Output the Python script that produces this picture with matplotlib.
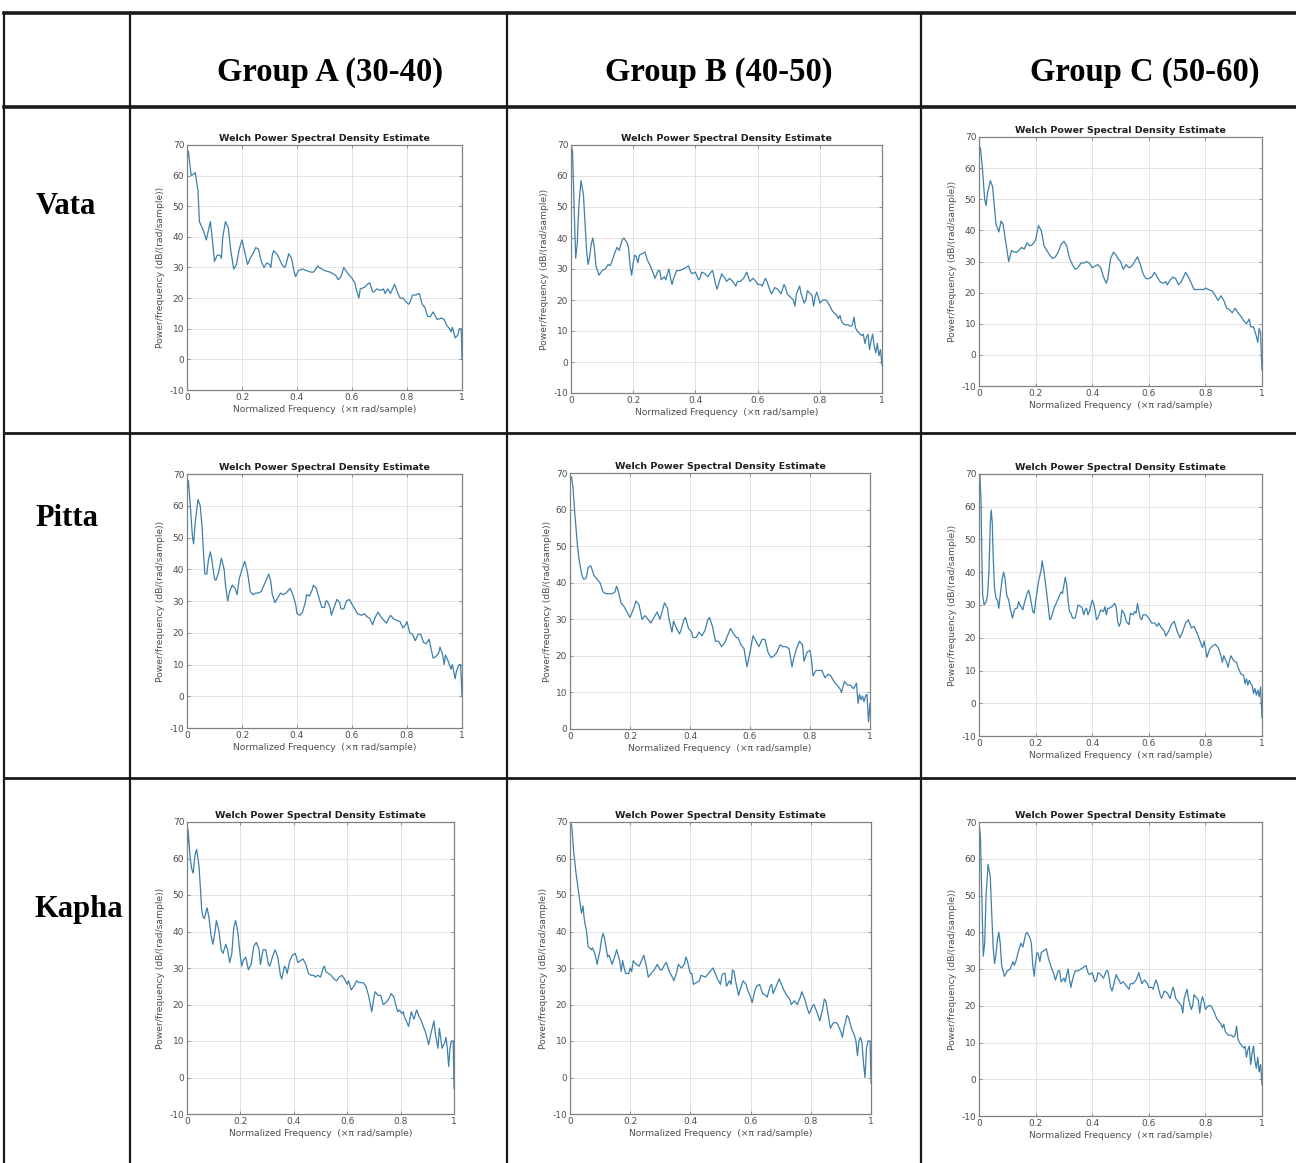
import matplotlib
matplotlib.use("Agg")
import matplotlib.pyplot as plt
from matplotlib.lines import Line2D

plt.rcParams["axes.unicode_minus"] = False

# ---------------- data ----------------
row_labels = ["Vata", "Pitta", "Kapha"]
col_labels = ["Group A (30-40)", "Group B (40-50)", "Group C (50-60)"]
plot_title = "Welch Power Spectral Density Estimate"
x_label = "Normalized Frequency  (\u00d7\u03c0 rad/sample)"
y_label = "Power/frequency (dB/(rad/sample))"
x_ticks = [0, 0.2, 0.4, 0.6, 0.8, 1]
x_ticklabels = ["0", "0.2", "0.4", "0.6", "0.8", "1"]

vata_a_f = [0, 0.005, 0.015, 0.025, 0.03, 0.04, 0.045, 0.05, 0.06, 0.07, 0.08, 0.085, 0.09, 0.1, 0.11, 0.12, 0.125,
            0.13, 0.14, 0.15, 0.16, 0.17, 0.18, 0.19, 0.2, 0.21, 0.22, 0.23, 0.24, 0.25, 0.26, 0.27, 0.28, 0.29, 0.3,
            0.305, 0.31, 0.315, 0.33, 0.345, 0.355, 0.36, 0.37, 0.38, 0.39, 0.395, 0.405, 0.42, 0.435, 0.45, 0.46,
            0.465, 0.475, 0.48, 0.5, 0.52, 0.54, 0.55, 0.56, 0.57, 0.585, 0.6, 0.61, 0.615, 0.625, 0.63, 0.645, 0.655,
            0.665, 0.675, 0.68, 0.69, 0.705, 0.715, 0.72, 0.73, 0.74, 0.755, 0.765, 0.775, 0.785, 0.795, 0.805, 0.81,
            0.82, 0.83, 0.845, 0.855, 0.865, 0.875, 0.885, 0.895, 0.91, 0.925, 0.935, 0.945, 0.955, 0.96, 0.965,
            0.975, 0.985, 0.99, 0.997, 1.0]
vata_a_db = [65, 68, 60, 60.5, 61, 55, 45, 44, 42, 39, 43, 45, 41, 32, 34, 34, 33,
             40, 45, 43, 35, 29.5, 31, 36, 39, 35, 31, 33, 34.5, 36.5, 36, 32, 30, 31.5, 31,
             30, 34, 35.5, 34, 31, 30, 31, 34.5, 33, 28.5, 27, 29, 29.5, 29, 28.5, 28.5,
             29, 30.5, 30, 29, 28.5, 27.5, 26, 27, 30, 28, 26.5, 25, 23, 20, 23, 23.5, 24.5,
             25, 22, 22, 23, 22.5, 23, 21.5, 23, 21.5, 24.5, 22, 20, 20, 19, 18, 18.5,
             21, 21, 21.5, 18, 17, 14, 14, 15.5, 13, 13.5, 13, 11, 10, 9, 10.5,
             7, 8, 10, 10, 0]

vata_b_f = [0, 0.005, 0.01, 0.015, 0.02, 0.025, 0.032, 0.04, 0.045, 0.05, 0.055, 0.06, 0.065, 0.07, 0.075, 0.08,
            0.09, 0.1, 0.11, 0.12, 0.125, 0.13, 0.14, 0.148, 0.155, 0.165, 0.17, 0.18, 0.185, 0.19, 0.195, 0.2,
            0.205, 0.21, 0.215, 0.22, 0.23, 0.238, 0.245, 0.255, 0.265, 0.27, 0.28, 0.285, 0.29, 0.3, 0.305, 0.31,
            0.315, 0.32, 0.325, 0.33, 0.34, 0.35, 0.36, 0.37, 0.378, 0.385, 0.39, 0.4, 0.41, 0.415, 0.42, 0.43,
            0.44, 0.45, 0.455, 0.46, 0.465, 0.47, 0.48, 0.485, 0.49, 0.495, 0.5, 0.51, 0.52, 0.53, 0.535, 0.545,
            0.555, 0.565, 0.57, 0.575, 0.585, 0.595, 0.6, 0.61, 0.615, 0.625, 0.63, 0.64, 0.645, 0.655, 0.665,
            0.675, 0.685, 0.69, 0.695, 0.705, 0.715, 0.72, 0.725, 0.735, 0.74, 0.75, 0.755, 0.76, 0.765, 0.775,
            0.78, 0.785, 0.79, 0.795, 0.8, 0.81, 0.82, 0.83, 0.84, 0.85, 0.855, 0.86, 0.865, 0.87, 0.88, 0.89,
            0.9, 0.905, 0.91, 0.915, 0.92, 0.93, 0.935, 0.94, 0.945, 0.95, 0.955, 0.96, 0.965, 0.97, 0.975, 0.98,
            0.985, 0.99, 0.995, 1.0]
vata_b_db = [70, 68, 50, 33.5, 38, 50, 58.5, 54, 45, 36, 31.5, 34, 38, 40, 37, 31,
             28, 29.5, 30, 31.5, 31, 32, 35, 37, 36, 39.5, 40, 38.5, 37, 31, 28, 32,
             34.5, 34, 32, 34.5, 35, 35.5, 33, 31, 28.5, 27, 29.5, 29.5, 26.5, 27.5, 26.5, 28.5,
             30, 27, 25, 27, 29.5, 29.5, 30, 30.5, 31, 29, 28.5, 29, 26.5, 27, 29, 28.5,
             27.5, 29, 29.5, 27.5, 25, 23.5, 27, 28.5, 27.5, 27, 26, 27, 26, 24.5, 26, 26,
             27, 29, 27.5, 26, 27, 26, 25, 25, 24.5, 27, 26, 23, 22, 24, 23.5,
             22, 25, 24, 22, 21, 20, 18, 22, 24.5, 22, 19, 20, 23, 22.5, 21.5,
             18, 21, 22.5, 21, 19, 20, 20, 18.5, 16.5, 15.5, 15, 14, 15, 13, 12, 12,
             11.5, 12, 14.5, 11, 10, 9, 8.5, 9, 6, 8, 9, 4, 7, 9, 5, 3,
             6, 2, 4, -1]

vata_c_f = [0, 0.005, 0.012, 0.02, 0.025, 0.03, 0.04, 0.048, 0.055, 0.06, 0.07, 0.078, 0.085, 0.09, 0.1, 0.105,
            0.115, 0.125, 0.135, 0.15, 0.16, 0.17, 0.18, 0.19, 0.2, 0.21, 0.22, 0.23, 0.24, 0.25, 0.26, 0.27, 0.28,
            0.29, 0.3, 0.31, 0.32, 0.33, 0.34, 0.35, 0.36, 0.37, 0.38, 0.39, 0.4, 0.41, 0.42, 0.43, 0.44, 0.45,
            0.455, 0.465, 0.475, 0.485, 0.49, 0.5, 0.51, 0.52, 0.53, 0.54, 0.55, 0.56, 0.57, 0.58, 0.59, 0.6, 0.61,
            0.62, 0.63, 0.64, 0.65, 0.66, 0.665, 0.675, 0.685, 0.695, 0.705, 0.715, 0.73, 0.74, 0.75, 0.76, 0.78,
            0.795, 0.8, 0.81, 0.825, 0.835, 0.845, 0.855, 0.865, 0.875, 0.885, 0.895, 0.905, 0.915, 0.925, 0.935,
            0.945, 0.955, 0.96, 0.97, 0.98, 0.985, 0.99, 0.995, 1.0]
vata_c_db = [67, 66.5, 60, 50, 48, 52, 56, 54, 47, 42, 39.5, 43, 42, 39, 33, 30,
             33.5, 33, 33, 34.5, 34, 36, 35, 35.5, 37, 41.5, 40, 35, 33.5, 32, 31, 31.5, 33,
             35.5, 36.5, 35, 31, 29, 27.5, 28, 29.5, 29.5, 30, 29.5, 28, 28.5, 29, 28, 25, 23,
             24.5, 31, 33, 32, 31, 30, 27.5, 29, 28, 28.5, 30, 31.5, 29, 26, 24.5, 24.5, 25,
             26.5, 25, 23.5, 23, 23.5, 22.5, 24, 25, 24.5, 22.5, 23.5, 26.5, 25, 23, 21, 21,
             21, 21.5, 21, 20.5, 19, 17.5, 19, 17.5, 15, 14.5, 13.5, 15, 13.5, 12.5, 11,
             10, 11.5, 9, 9, 6, 4, 8.5, 7, -5]

pitta_a_f = [0, 0.005, 0.012, 0.02, 0.024, 0.03, 0.04, 0.048, 0.055, 0.06, 0.065, 0.072, 0.078, 0.085, 0.09, 0.1,
             0.105, 0.115, 0.125, 0.135, 0.14, 0.148, 0.155, 0.165, 0.175, 0.182, 0.19, 0.2, 0.21, 0.22, 0.23,
             0.24, 0.25, 0.26, 0.27, 0.28, 0.29, 0.297, 0.305, 0.31, 0.32, 0.33, 0.34, 0.35, 0.36, 0.37, 0.375,
             0.385, 0.395, 0.4, 0.41, 0.42, 0.43, 0.435, 0.445, 0.455, 0.46, 0.47, 0.48, 0.49, 0.5, 0.505, 0.51,
             0.52, 0.525, 0.535, 0.545, 0.555, 0.56, 0.57, 0.58, 0.59, 0.6, 0.61, 0.62, 0.635, 0.645, 0.655, 0.665,
             0.675, 0.685, 0.695, 0.705, 0.715, 0.725, 0.74, 0.75, 0.76, 0.775, 0.785, 0.795, 0.8, 0.81, 0.82,
             0.83, 0.84, 0.85, 0.86, 0.87, 0.88, 0.89, 0.895, 0.905, 0.915, 0.92, 0.93, 0.935, 0.94, 0.95, 0.96,
             0.965, 0.975, 0.98, 0.99, 0.995, 1.0]
pitta_a_db = [64, 68, 60, 50, 48, 55, 62, 60, 53, 45, 38.5, 38.5, 43, 45.5, 43, 37,
              36.5, 39, 43.5, 40, 35, 30, 33, 35, 34, 32, 37, 40, 42.5, 39, 33,
              32, 32.5, 32.5, 33, 35, 37, 38.5, 36, 32, 29.5, 31, 32.5, 32, 32.5, 33.5, 34,
              32, 29, 26, 25.5, 26.5, 29.5, 32, 31.5, 33.5, 35, 34, 31, 28, 28, 30, 30,
              28, 25.5, 28, 30.5, 29.5, 27.5, 27.5, 30, 30.5, 29, 27.5, 26, 25.5, 26, 25, 24.5,
              22.5, 25, 26.5, 25, 24, 23, 25.5, 24.5, 24, 23.5, 21.5, 22.5, 23.5, 20, 19.5,
              17.5, 19.5, 19.5, 17, 16.5, 18, 14, 12, 12.5, 13.5, 15.5, 13, 10, 13, 11, 8.5,
              10, 5.5, 8, 10, 10, 0]

pitta_b_f = [0, 0.005, 0.01, 0.015, 0.02, 0.025, 0.03, 0.035, 0.04, 0.045, 0.05, 0.055, 0.06, 0.065, 0.07, 0.08,
             0.09, 0.1, 0.11, 0.12, 0.13, 0.14, 0.15, 0.155, 0.16, 0.17, 0.18, 0.19, 0.2, 0.21, 0.22, 0.23, 0.24,
             0.25, 0.26, 0.27, 0.28, 0.29, 0.3, 0.31, 0.315, 0.325, 0.33, 0.34, 0.345, 0.355, 0.365, 0.37, 0.38,
             0.385, 0.395, 0.405, 0.41, 0.42, 0.43, 0.44, 0.45, 0.46, 0.465, 0.475, 0.485, 0.495, 0.505, 0.515,
             0.525, 0.535, 0.545, 0.555, 0.56, 0.57, 0.58, 0.59, 0.6, 0.61, 0.62, 0.63, 0.64, 0.65, 0.66, 0.67,
             0.68, 0.69, 0.7, 0.71, 0.72, 0.73, 0.74, 0.745, 0.755, 0.765, 0.775, 0.78, 0.79, 0.8, 0.805, 0.81,
             0.82, 0.83, 0.84, 0.85, 0.86, 0.87, 0.88, 0.89, 0.9, 0.905, 0.915, 0.925, 0.935, 0.945, 0.955, 0.96,
             0.965, 0.97, 0.975, 0.98, 0.985, 0.99, 0.995, 1.0]
pitta_b_db = [68, 69, 66, 60, 55, 50, 46.5, 44, 42, 41, 41, 41.5, 44, 44.5, 44.5, 42,
              41, 40, 37.5, 37, 37, 37, 37.5, 39, 38, 34.5, 33.5, 32, 30.5, 32.5, 35, 34, 30,
              31, 30, 29, 30.5, 32, 30, 33, 34.5, 33, 30, 26.5, 29.5, 27.5, 26, 27, 30,
              30.5, 27.5, 26.5, 25, 25, 26.5, 25.5, 27, 30, 30.5, 28, 24, 24, 22.5, 23.5,
              25.5, 27.5, 26, 25, 25, 23, 22, 17, 21, 25.5, 24, 22.5, 24.5, 24.5, 21, 19.5,
              20, 21, 23, 22.5, 22.5, 22, 17, 19, 22, 24, 23, 18.5, 21, 21.5, 19, 14.5,
              16, 16, 16, 14, 15, 14.5, 13, 12, 11, 10, 13, 12, 12, 11, 12.5, 7,
              9.5, 8, 9, 7.5, 9, 9.5, 2, 7]

pitta_c_f = [0, 0.003, 0.007, 0.01, 0.013, 0.018, 0.025, 0.03, 0.035, 0.04, 0.043, 0.047, 0.05, 0.055, 0.06,
             0.065, 0.07, 0.075, 0.082, 0.087, 0.092, 0.098, 0.105, 0.11, 0.118, 0.125, 0.13, 0.135, 0.14, 0.145,
             0.155, 0.16, 0.168, 0.175, 0.18, 0.19, 0.195, 0.2, 0.21, 0.22, 0.223, 0.23, 0.24, 0.25, 0.255, 0.265,
             0.27, 0.28, 0.285, 0.29, 0.295, 0.3, 0.305, 0.31, 0.315, 0.32, 0.325, 0.33, 0.34, 0.345, 0.35, 0.36,
             0.365, 0.37, 0.375, 0.38, 0.385, 0.39, 0.4, 0.405, 0.41, 0.415, 0.42, 0.43, 0.44, 0.445, 0.45, 0.455,
             0.46, 0.47, 0.48, 0.485, 0.49, 0.495, 0.5, 0.505, 0.515, 0.52, 0.53, 0.535, 0.545, 0.55, 0.555, 0.56,
             0.565, 0.57, 0.575, 0.58, 0.59, 0.6, 0.61, 0.62, 0.63, 0.635, 0.645, 0.655, 0.66, 0.67, 0.68, 0.69,
             0.7, 0.71, 0.72, 0.73, 0.74, 0.75, 0.76, 0.77, 0.775, 0.785, 0.79, 0.795, 0.8, 0.805, 0.815, 0.825,
             0.835, 0.845, 0.855, 0.86, 0.865, 0.875, 0.88, 0.885, 0.89, 0.9, 0.91, 0.915, 0.925, 0.935, 0.94,
             0.945, 0.95, 0.955, 0.96, 0.965, 0.97, 0.975, 0.98, 0.985, 0.99, 0.995, 1.0]
pitta_c_db = [66, 70, 62, 45, 33, 30, 31, 33, 40, 55, 59, 55, 45, 35, 32,
              31.5, 29, 33, 38, 40, 38, 33, 31.5, 29, 26, 28.5, 29, 29, 31, 30,
              28.5, 30.5, 33, 34.5, 33, 28, 27.5, 31, 37, 41, 43.5, 40, 33, 25.5, 26, 29,
              30, 32, 33, 34, 33.5, 36, 38.5, 36, 31, 28, 27.5, 26, 26, 28, 30, 29.5,
              29, 27, 28.5, 29, 27, 28, 31.5, 30.5, 28.5, 25.5, 26, 28.5, 28, 29.5, 27, 29,
              29, 29.5, 30.5, 29, 25, 23.5, 24.5, 28.5, 27, 25, 24, 27.5, 27, 28, 27.5, 30.5,
              28, 26, 25.5, 27, 27, 26, 24.5, 24.5, 23.5, 24.5, 23, 22, 20.5, 22, 24, 25,
              22, 20, 22, 24.5, 25.5, 23, 23.5, 21.5, 20.5, 18, 17, 19, 17, 14, 16.5, 17.5,
              18, 17, 14.5, 12.5, 14.5, 12.5, 11, 13, 14.5, 13, 12.5, 11, 9, 8.5, 6,
              7.5, 5.5, 7, 6, 5.5, 3, 4.5, 2.5, 4, 2, 5, -4.5]

kapha_a_f = [0, 0.004, 0.008, 0.012, 0.018, 0.023, 0.03, 0.036, 0.045, 0.05, 0.055, 0.06, 0.065, 0.07, 0.075,
             0.082, 0.09, 0.097, 0.105, 0.11, 0.12, 0.128, 0.135, 0.145, 0.152, 0.16, 0.168, 0.175, 0.182, 0.19,
             0.2, 0.205, 0.21, 0.22, 0.23, 0.24, 0.25, 0.26, 0.27, 0.275, 0.285, 0.295, 0.305, 0.31, 0.32, 0.33,
             0.34, 0.35, 0.355, 0.365, 0.37, 0.375, 0.385, 0.395, 0.405, 0.41, 0.415, 0.425, 0.435, 0.445, 0.455,
             0.465, 0.475, 0.48, 0.49, 0.5, 0.51, 0.515, 0.52, 0.53, 0.54, 0.55, 0.56, 0.57, 0.58, 0.59, 0.6,
             0.605, 0.615, 0.625, 0.635, 0.645, 0.66, 0.67, 0.68, 0.692, 0.7, 0.705, 0.715, 0.725, 0.735, 0.745,
             0.755, 0.765, 0.775, 0.785, 0.79, 0.795, 0.805, 0.81, 0.815, 0.83, 0.84, 0.85, 0.86, 0.87, 0.875,
             0.885, 0.895, 0.905, 0.915, 0.925, 0.93, 0.94, 0.945, 0.95, 0.955, 0.965, 0.97, 0.975, 0.98, 0.985,
             0.99, 0.997, 1.0]
kapha_a_db = [60, 68, 64, 60, 57, 56, 61, 62.5, 58, 52, 46, 44, 43.5, 45, 46.5,
              44, 39, 36.5, 40, 43, 40, 35, 34, 36.5, 35, 31.5, 34, 41, 43, 40,
              33, 30.5, 32, 33, 29.5, 31, 36, 37, 35, 31, 35, 35, 31, 30.5, 33, 35,
              33, 28, 27, 30.5, 30, 28.5, 32, 33.5, 34, 33, 31.5, 32, 32.5, 31, 28.5,
              28, 28, 27.5, 28, 27.5, 30, 30.5, 29, 28.5, 28, 27, 26.5, 27.5, 28, 27, 25.5,
              26.5, 24, 25, 26.5, 26, 26, 25, 22.5, 18, 22, 23.5, 22.5, 22.5, 20, 20.5,
              21.5, 23, 22, 19, 18, 18.5, 17.5, 18, 16.5, 14, 18, 16, 18.5, 16.5, 16,
              14, 12, 9, 12.5, 15.5, 12, 8, 13.5, 11, 8, 9.5, 11, 8, 3, 8,
              10, 10, -3]

kapha_b_f = [0, 0.006, 0.012, 0.02, 0.03, 0.038, 0.043, 0.048, 0.055, 0.06, 0.07, 0.075, 0.082, 0.088, 0.09, 0.1,
             0.105, 0.11, 0.115, 0.125, 0.13, 0.14, 0.15, 0.155, 0.165, 0.17, 0.175, 0.18, 0.185, 0.195, 0.2,
             0.205, 0.21, 0.22, 0.23, 0.24, 0.245, 0.255, 0.26, 0.27, 0.28, 0.29, 0.3, 0.305, 0.315, 0.32, 0.33,
             0.34, 0.345, 0.355, 0.36, 0.365, 0.37, 0.38, 0.385, 0.39, 0.395, 0.4, 0.405, 0.41, 0.42, 0.43, 0.435,
             0.45, 0.46, 0.47, 0.475, 0.48, 0.49, 0.5, 0.505, 0.51, 0.515, 0.52, 0.53, 0.535, 0.54, 0.545, 0.55,
             0.56, 0.565, 0.575, 0.585, 0.59, 0.6, 0.605, 0.615, 0.62, 0.63, 0.64, 0.65, 0.655, 0.665, 0.67,
             0.675, 0.685, 0.695, 0.7, 0.71, 0.72, 0.73, 0.735, 0.745, 0.755, 0.765, 0.77, 0.78, 0.79, 0.795,
             0.805, 0.81, 0.82, 0.83, 0.84, 0.845, 0.85, 0.86, 0.865, 0.875, 0.885, 0.89, 0.9, 0.905, 0.91, 0.92,
             0.925, 0.935, 0.945, 0.95, 0.955, 0.96, 0.965, 0.97, 0.975, 0.98, 0.985, 0.99, 0.997, 1.0]
kapha_b_db = [70, 69, 62, 56, 50, 45, 47, 43, 40, 36, 35, 35.5, 34, 32, 31, 35,
              38, 39.5, 38, 33, 33.5, 31, 33.5, 35, 32, 29, 32, 30, 28.5, 28.5, 30,
              29, 32, 31, 30.5, 32.5, 33.5, 30, 27.5, 28.5, 29.5, 31, 29.5, 29.5, 31, 31.5, 29,
              27.5, 26.5, 29, 31, 30.5, 30, 31, 33, 32, 30, 28.5, 28.5, 25.5, 26, 26.5, 28,
              27.5, 28.5, 29.5, 30, 29, 27, 25.5, 28, 28.5, 28.5, 25, 26.5, 25.5, 29.5, 29, 26.5,
              22.5, 24, 26.5, 25.5, 24, 22, 20.5, 24, 25, 25.5, 23, 22.5, 22, 25, 25.5,
              23, 25, 27, 26, 24, 22.5, 21.5, 20, 21, 20, 22, 23.5, 21.5, 18.5, 17.5,
              19.5, 20, 18, 15.5, 19, 21.5, 21, 16, 13.5, 15, 15, 14.5, 12.5, 11, 13.5, 17,
              16.5, 13.5, 11.5, 10, 6, 10, 11, 9.5, 4, 0, 8, 10, 10, -1.5]

kapha_c_f = [0, 0.005, 0.01, 0.015, 0.02, 0.025, 0.032, 0.04, 0.045, 0.05, 0.055, 0.06, 0.065, 0.07, 0.075, 0.08,
             0.09, 0.1, 0.11, 0.12, 0.125, 0.13, 0.14, 0.148, 0.155, 0.165, 0.17, 0.18, 0.185, 0.19, 0.195, 0.2,
             0.205, 0.21, 0.215, 0.22, 0.23, 0.238, 0.245, 0.255, 0.265, 0.27, 0.28, 0.285, 0.29, 0.3, 0.305, 0.31,
             0.315, 0.32, 0.325, 0.33, 0.34, 0.35, 0.36, 0.37, 0.378, 0.385, 0.39, 0.4, 0.41, 0.415, 0.42, 0.43,
             0.44, 0.45, 0.455, 0.46, 0.465, 0.47, 0.48, 0.485, 0.49, 0.495, 0.5, 0.51, 0.52, 0.53, 0.535, 0.545,
             0.555, 0.565, 0.57, 0.575, 0.585, 0.595, 0.6, 0.61, 0.615, 0.625, 0.63, 0.64, 0.645, 0.655, 0.665,
             0.675, 0.685, 0.69, 0.695, 0.705, 0.715, 0.72, 0.725, 0.735, 0.74, 0.75, 0.755, 0.76, 0.765, 0.775,
             0.78, 0.785, 0.79, 0.795, 0.8, 0.81, 0.82, 0.83, 0.84, 0.85, 0.855, 0.86, 0.865, 0.87, 0.88, 0.89,
             0.9, 0.905, 0.91, 0.915, 0.92, 0.93, 0.935, 0.94, 0.945, 0.95, 0.955, 0.96, 0.965, 0.97, 0.975, 0.98,
             0.985, 0.99, 0.995, 1.0]
kapha_c_db = [70, 66, 50, 33.5, 37, 50, 58.5, 55, 45, 36, 31.5, 34, 38, 40, 37, 31,
              28, 29.5, 30, 32, 31, 32, 35, 37, 36, 39.5, 40, 38.5, 37, 31, 28, 32,
              34.5, 34, 32, 34.5, 35, 35.5, 33, 30.5, 28.5, 27, 29.5, 29.5, 26.5, 27.5, 26.5, 28.5,
              30, 27, 25, 27, 29.5, 29.5, 30, 30.5, 31, 29, 28.5, 29, 26.5, 27, 29, 28.5,
              27.5, 29.5, 29.5, 27.5, 25, 24, 27, 28.5, 27.5, 27, 26, 26.5, 25.5, 24.5, 26, 26,
              27, 29, 27.5, 26, 27, 26, 25, 25, 24.5, 27, 26, 23, 22, 24, 23.5,
              22, 25, 24, 22, 21, 20, 18, 22, 24.5, 22, 19, 20, 23, 22.5, 21.5,
              18, 21, 22.5, 21, 19, 20, 20, 18.5, 16.5, 15.5, 15, 14, 15, 13, 12, 12,
              11.5, 12, 14.5, 11, 10, 9, 8.5, 9, 6, 8, 9, 4, 7, 9, 5, 3,
              6, 2, 4, -1.5]

series = [
    [(vata_a_f, vata_a_db), (vata_b_f, vata_b_db), (vata_c_f, vata_c_db)],
    [(pitta_a_f, pitta_a_db), (pitta_b_f, pitta_b_db), (pitta_c_f, pitta_c_db)],
    [(kapha_a_f, kapha_a_db), (kapha_b_f, kapha_b_db), (kapha_c_f, kapha_c_db)],
]
y_limits = [
    [(-10, 70), (-10, 70), (-10, 70)],
    [(-10, 70), (0, 70), (-10, 70)],
    [(-10, 70), (-10, 70), (-10, 70)],
]

# ---------------- layout (pixels) ----------------
W, H = 1296, 1163
axes_px = [
    [(187, 462, 145, 390), (571, 882, 145, 393), (979, 1262, 137, 386)],
    [(187, 462, 474, 728), (570, 870, 473, 729), (979, 1262, 474, 736)],
    [(187, 454, 822, 1114), (570, 871, 822, 1114), (979, 1262, 822, 1116)],
]
h_lines = [13, 107, 433, 778]
v_lines = [4, 130, 507, 921]
header_x = [330, 719, 1145]
header_y = 72
row_label_pos = [(66, 207), (67, 519), (79, 910)]

line_color = "#3d80aa"
axis_color = "#808080"
tick_color = "#4d4d4d"
grid_color = "#e3e3e3"

fig = plt.figure(figsize=(W / 100, H / 100), dpi=100)
fig.patch.set_facecolor("white")


def fx(x):
    return x / W


def fy(y):
    return 1 - y / H


# table lines
for y in h_lines:
    lw = 2.6 if y in (13, 107) else 2.0
    fig.add_artist(Line2D([fx(4), 1.0], [fy(y), fy(y)], color="#1a1a1a", lw=lw, transform=fig.transFigure))
for x in v_lines:
    fig.add_artist(Line2D([fx(x), fx(x)], [fy(13), 0.0], color="#1a1a1a", lw=1.6, transform=fig.transFigure))

# headers
for x, lab in zip(header_x, col_labels):
    fig.text(fx(x), fy(header_y), lab, ha="center", va="center", family="Liberation Serif",
             fontweight="bold", fontsize=23.5, color="black")
for (x, y), lab in zip(row_label_pos, row_labels):
    fig.text(fx(x), fy(y), lab, ha="center", va="center", family="Liberation Serif",
             fontweight="bold", fontsize=22, color="black")

for r in range(3):
    for c in range(3):
        x0, x1, y0, y1 = axes_px[r][c]
        ax = fig.add_axes([fx(x0), fy(y1), (x1 - x0) / W, (y1 - y0) / H])
        f, db = series[r][c]
        ax.plot(f, db, color=line_color, lw=0.9)
        ax.set_xlim(0, 1)
        ax.set_ylim(*y_limits[r][c])
        ax.set_xticks(x_ticks)
        ax.set_xticklabels(x_ticklabels)
        lo, hi = y_limits[r][c]
        ax.set_yticks(list(range(lo, hi + 1, 10)))
        ax.grid(True, color=grid_color, lw=0.7)
        ax.set_axisbelow(True)
        for s in ax.spines.values():
            s.set_color(axis_color)
            s.set_linewidth(0.9)
        ax.tick_params(direction="in", length=2.5, width=0.6, color=axis_color, labelcolor=tick_color,
                       labelsize=6.5, top=True, right=True, pad=2)
        ax.set_title(plot_title, fontsize=6.8, fontweight="bold", color="#1f1f1f", pad=3)
        ax.set_xlabel(x_label, fontsize=6.6, color=tick_color, labelpad=2)
        ax.set_ylabel(y_label, fontsize=6.6, color=tick_color, labelpad=3)

fig.savefig("out.png", dpi=100, facecolor="white")
